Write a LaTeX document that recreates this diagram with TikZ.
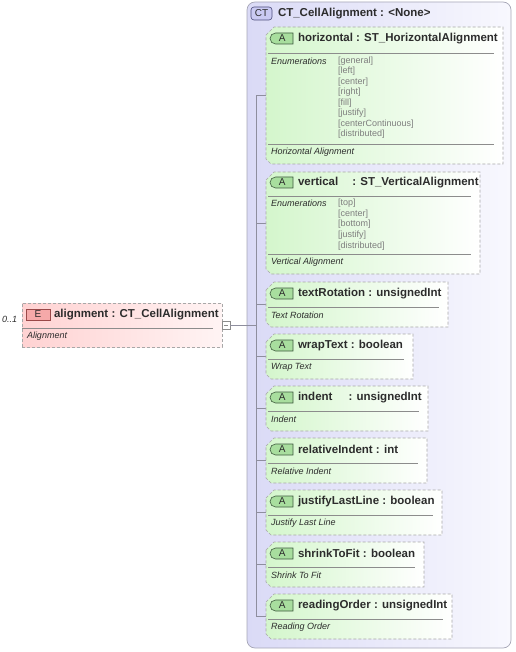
\documentclass[tikz,border=0pt]{standalone}
\usepackage{fontspec}
\setmainfont{Liberation Sans}
\usetikzlibrary{positioning,calc,shapes.misc}
\definecolor{CTLilac}{HTML}{DADAF6}
\definecolor{CTPale}{HTML}{F8F8FE}
\definecolor{CTEdge}{HTML}{A6A6B6}
\definecolor{CTBadge}{HTML}{CACAF2}
\definecolor{CTBadgeEdge}{HTML}{4C4C7C}
\definecolor{AttrGreen}{HTML}{D4F6CC}
\definecolor{AttrBadge}{HTML}{A8DE9E}
\definecolor{AttrBadgeEdge}{HTML}{3E5A3E}
\definecolor{ElemPink}{HTML}{FFD2D2}
\definecolor{ElemPale}{HTML}{FFF4F4}
\definecolor{ElemBadge}{HTML}{F5A9A9}
\definecolor{ElemBadgeEdge}{HTML}{9A4848}
\definecolor{DashGray}{HTML}{A8A8A8}
\definecolor{RuleGray}{HTML}{8C8C8C}
\definecolor{EnumGray}{HTML}{7E7E7E}
\definecolor{InkGray}{HTML}{2C2C2C}
\definecolor{TreeGray}{HTML}{8E8E9E}

\begin{document}
\begin{tikzpicture}[x=1pt,y=-1pt,
  every node/.style={inner sep=0pt,outer sep=0pt,text=InkGray},
  boxframe/.style={rectangle,anchor=north west},
  attrfill/.style={draw=DashGray,dash pattern=on 3pt off 2pt,line width=0.6pt,left color=AttrGreen,right color=white},
  abadge/.style={rounded rectangle,rounded rectangle right arc=none,draw=AttrBadgeEdge,fill=AttrBadge,line width=0.6pt,minimum width=23pt,minimum height=11pt,anchor=west,font=\fontsize{10}{11}\selectfont},
  titletext/.style={font=\fontsize{11.5}{13}\selectfont\bfseries,anchor=west},
  desctext/.style={font=\fontsize{9}{10}\selectfont\itshape,anchor=west},
  enumtext/.style={font=\fontsize{9}{10}\selectfont,text=EnumGray,anchor=west},
  seprule/.style={RuleGray,line width=0.6pt},
  tree/.style={TreeGray,line width=0.6pt}]
\useasboundingbox (0,0) rectangle (515,652);
\node[boxframe,rounded corners=8pt,draw=CTEdge,line width=0.7pt,left color=CTLilac,right color=CTPale,minimum width=264pt,minimum height=646pt] (ct) at (247,2) {};
\node[boxframe,draw=CTBadgeEdge,fill=CTBadge,rounded corners=3pt,line width=0.6pt,minimum width=21pt,minimum height=13pt,font=\fontsize{10}{11}\selectfont] (ct-b) at (251,7) {CT};
\node[titletext] (ct-t) at (278,13.5) {CT\_CellAlignment : <None>};

\node[boxframe,draw=DashGray,dash pattern=on 3pt off 2pt,line width=0.6pt,left color=ElemPink,right color=ElemPale,minimum width=200pt,minimum height=44pt] (elem) at (22,303) {};
\node[boxframe,draw=ElemBadgeEdge,fill=ElemBadge,line width=0.6pt,minimum width=24pt,minimum height=11pt,font=\fontsize{10}{11}\selectfont] (elem-b) at (26,309) {E};
\node[titletext] (elem-t) at (54,314.5) {alignment : CT\_CellAlignment};
\draw[seprule] (22,328) -- (213,328);
\node[desctext] (elem-d) at (27,336) {Alignment};
\node[desctext] (elem-m) at (2,319) {0..1};
\node[draw=RuleGray,fill=white,line width=0.6pt,minimum size=8pt,anchor=west] (fold) at (elem.east) {};
\draw[RuleGray,line width=0.6pt] ([xshift=1.8pt]fold.west) -- ([xshift=-1.8pt]fold.east);

\node[boxframe,minimum width=237pt,minimum height=137pt] (horiz) at (266,27) {};
\node[boxframe,minimum width=214pt,minimum height=102pt] (vert) at (266,172) {};
\coordinate (trunk) at (256,95);
\draw[tree] (fold.east) -- (fold.east -| trunk);
\foreach \b in {horiz,vert}{
  \draw[tree] (trunk |- \b.west) -- (\b.west);
  \path[attrfill] ([yshift=-8pt]\b.north west) -- ([xshift=8pt]\b.north west) -- (\b.north east) -- (\b.south east) -- ([xshift=5pt]\b.south west) -- ([yshift=5pt]\b.south west) -- cycle;
}
\node[abadge] (horiz-a) at (270,38.5) {A};
\node[titletext] (horiz-t) at (298,38.5) {horizontal : ST\_HorizontalAlignment};
\draw[seprule] (268,53) -- (494,53);
\node[desctext] (horiz-e) at (271,61) {Enumerations};
\foreach \v [count=\i from 0] in {general,left,center,right,fill,justify,centerContinuous,distributed}
  \node[enumtext] (horiz-v\i) at (338,61+10.5*\i) {[\v]};
\draw[seprule] (268,144) -- (494,144);
\node[desctext] (horiz-d) at (271,152) {Horizontal Alignment};

\node[abadge] (vert-a) at (270,182.5) {A};
\node[titletext] (vert-t) at (298,182.5) {vertical\hspace{14pt}: ST\_VerticalAlignment};
\draw[seprule] (268,196) -- (471,196);
\node[desctext] (vert-e) at (271,203) {Enumerations};
\foreach \v [count=\i from 0] in {top,center,bottom,justify,distributed}
  \node[enumtext] (vert-v\i) at (338,203+10.7*\i) {[\v]};
\draw[seprule] (268,254) -- (471,254);
\node[desctext] (vert-d) at (271,262) {Vertical Alignment};

\foreach \nm/\tp/\rt/\ttl/\dsc in {trot/282/448/{textRotation : unsignedInt}/Text Rotation,
    wrap/334/413/{wrapText : boolean}/Wrap Text,
    ind/386/428/{indent\hspace{16pt}: unsignedInt}/Indent,
    rel/438/427/{relativeIndent : int}/Relative Indent,
    jll/490/442/{justifyLastLine : boolean}/Justify Last Line,
    stf/542/424/{shrinkToFit : boolean}/Shrink To Fit,
    rord/594/452/{readingOrder : unsignedInt}/Reading Order}{
  \node[boxframe,minimum width=\rt-266,minimum height=45pt] (\nm) at (266,\tp) {};
  \draw[tree] (trunk |- \nm.west) -- (\nm.west);
  \path[attrfill] ([yshift=-8pt]\nm.north west) -- ([xshift=8pt]\nm.north west) -- (\nm.north east) -- (\nm.south east) -- ([xshift=5pt]\nm.south west) -- ([yshift=5pt]\nm.south west) -- cycle;
  \node[abadge] (\nm-a) at (270,\tp+11.5) {A};
  \node[titletext] (\nm-t) at (298,\tp+11.5) {\ttl};
  \draw[seprule] (268,\tp+25) -- (\rt-9,\tp+25);
  \node[desctext] (\nm-d) at (271,\tp+33) {\dsc};
}
\draw[tree] (trunk |- horiz.west) -- (trunk |- rord.west);
\end{tikzpicture}
\end{document}
